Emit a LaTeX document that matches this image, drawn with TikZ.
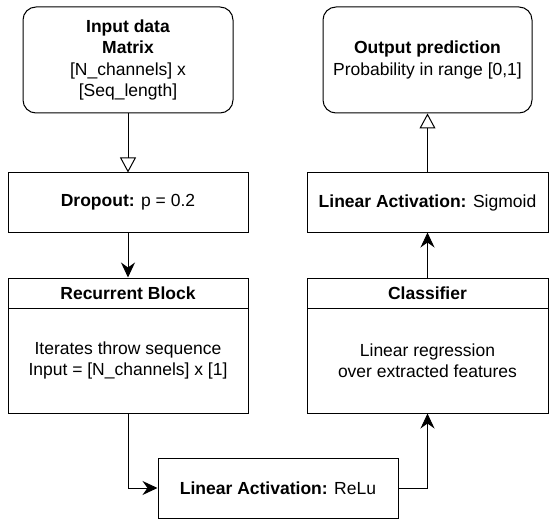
\documentclass[tikz,border=0pt]{standalone}
\usepackage{fontspec}
\setmainfont{Liberation Sans}
\usetikzlibrary{arrows.meta}
\begin{document}
\begin{tikzpicture}[x=1pt,y=-1pt,
  font=\fontsize{17.5}{21.5}\selectfont,
  box/.style={draw, line width=1pt, inner sep=0pt, align=center},
  rbox/.style={box, rounded corners=13pt},
  conn/.style={line width=1pt},
  fill tip/.style={-{Stealth[length=15pt,width=14pt,inset=5pt]}},
  open tip/.style={-{Triangle[open,length=15pt,width=16pt]}}]
\useasboundingbox (0,0) rectangle (558,527);
\node[rbox, minimum width=210pt, minimum height=106pt] (in) at (128,60)
  {\textbf{Input data}\\\textbf{Matrix}\\{[N\_channels] x}\\{[Seq\_length]}};
\node[rbox, minimum width=209pt, minimum height=106pt] (out) at (427.5,60)
  {\textbf{Output prediction}\\Probability in range [0,1]};
\node[box, minimum width=240pt, minimum height=59pt] (drop) at (128,202.5)
  {\textbf{Dropout:} p = 0.2};
\node[box, minimum width=241pt, minimum height=59pt] (sig) at (427.5,202.5)
  {\textbf{Linear Activation:} Sigmoid};
\node[box, minimum width=240pt, minimum height=30pt] (rech) at (128,293)
  {\textbf{Recurrent Block}};
\node[box, minimum width=240pt, minimum height=105pt] (recb) at (128,360.5)
  {Iterates throw sequence\\Input = [N\_channels] x [1]};
\node[box, minimum width=241pt, minimum height=30pt] (clsh) at (427.5,293)
  {\textbf{Classifier}};
\node[box, minimum width=241pt, minimum height=105pt] (clsb) at (427.5,360.5)
  {Linear regression\\over extracted features};
\node[box, minimum width=240pt, minimum height=60pt] (relu) at (278,488)
  {\textbf{Linear Activation:} ReLu};
\draw[conn, open tip] (in) -- (drop);
\draw[conn, fill tip] (drop) -- (rech);
\draw[conn, fill tip] (recb.south) |- (relu.west);
\draw[conn, fill tip] (relu.east) -| (clsb.south);
\draw[conn, fill tip] (clsh) -- (sig);
\draw[conn, open tip] (sig) -- (out);
\end{tikzpicture}
\end{document}
